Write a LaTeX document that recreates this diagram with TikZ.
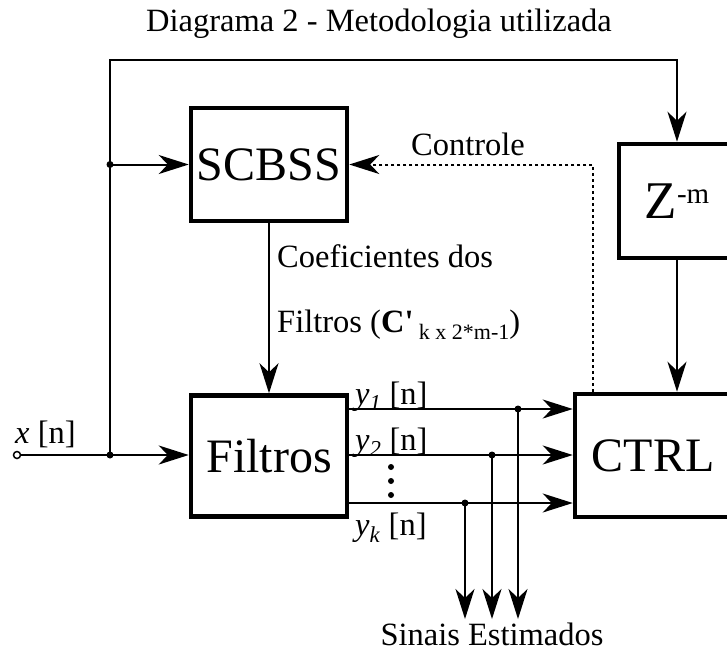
\documentclass[tikz,border=0pt]{standalone}
\usepackage{fontspec}
\setmainfont{Liberation Serif}
\usetikzlibrary{arrows.meta}
\newcommand\fbig{\fontsize{48}{54}\selectfont}
\newcommand\fzed{\fontsize{53}{58}\selectfont}
\newcommand\fmid{\fontsize{32.5}{38}\selectfont}
\newcommand\fsubs{\fontsize{22}{24}\selectfont}
\begin{document}
\begin{tikzpicture}[x=1pt,y=-1pt,
  blk/.style={draw,line width=4.5pt,inner sep=0pt,font=\fbig},
  ln/.style={line width=2pt},
  tip/.style={-{Stealth[length=30pt,width=19pt,inset=9pt]}},
  arr/.style={ln,tip},
  dotline/.style={line width=2pt,dash pattern=on 3pt off 3pt},
  lbl/.style={inner sep=0pt,font=\fmid},
  jdot/.style={fill=black}]
\useasboundingbox (0,0) rectangle (727,657);
\clip (0,0) rectangle (727,657);

% blocks
\node[blk,minimum width=156pt,minimum height=113pt] (scb) at (269,164.5) {SCBSS};
\node[blk,minimum width=156pt,minimum height=121pt] (fil) at (269,456) {Filtros};
\node[blk,minimum width=116pt,minimum height=114pt,font=\fzed] (zm) at (677,201) {Z\raisebox{15pt}{\fontsize{29}{32}\selectfont -m}};
\node[blk,minimum width=156pt,minimum height=123pt] (ctrl) at (653,455.5) {CTRL};

% input
\node[circle,draw,line width=1.5pt,inner sep=0pt,minimum size=7pt,fill=white] (in) at (17,455) {};
\coordinate (ja) at (110,455);
\coordinate (jb) at (110,164.5);
\coordinate (tl) at (110,60);
\draw[arr] (in) -- (in -| fil.west);
\draw[arr] (ja) -- (tl) -| (zm.north);
\draw[arr] (jb) -- (jb -| scb.west);
\fill[jdot] (ja) circle (3.5pt);
\fill[jdot] (jb) circle (3.5pt);

% SCBSS -> Filtros
\draw[arr] (scb.south) -- (fil.north);
% Z -> CTRL
\draw[arr] (zm.south) -- (zm.south |- ctrl.north);
% control dotted
\coordinate (cdx) at (593,164.5);
\draw[dotline,tip] (ctrl.north -| cdx) -- (cdx) -- (cdx -| scb.east);

% outputs
\coordinate (t1) at (518,409);
\coordinate (t2) at (492,455);
\coordinate (t3) at (465,503);
\coordinate (b1) at (518,619);
\coordinate (b2) at (492,619);
\coordinate (b3) at (465,619);
\draw[arr] (t1 -| fil.east) -- (t1 -| ctrl.west);
\draw[arr] (t2 -| fil.east) -- (t2 -| ctrl.west);
\draw[arr] (t3 -| fil.east) -- (t3 -| ctrl.west);
\draw[arr] (t1) -- (b1);
\draw[arr] (t2) -- (b2);
\draw[arr] (t3) -- (b3);
\fill[jdot] (t1) circle (3.5pt);
\fill[jdot] (t2) circle (3.5pt);
\fill[jdot] (t3) circle (3.5pt);
\fill (391,467) circle (3pt);
\fill (391,481) circle (3pt);
\fill (391,495) circle (3pt);

% labels
\node[lbl,anchor=base] (title) at (379,31) {Diagrama 2 - Metodologia utilizada};
\node[lbl,anchor=base] (ctl) at (468,155) {Controle};
\node[lbl,anchor=base west] (coef) at (277,267) {Coeficientes dos};
\node[lbl,anchor=base west] (filt) at (277,332) {Filtros (\textbf{C\textquotesingle}\,{\fsubs\raisebox{-7pt}{k x 2*m-1}})};
\node[lbl,anchor=base west] (xl) at (15,443) {\textit{x} [n]};
\node[lbl,anchor=base west] (y1l) at (355,404) {\textit{y}\textsubscript{\textit{1}} [n]};
\node[lbl,anchor=base west] (y2l) at (355,450) {\textit{y}\textsubscript{\textit{2}} [n]};
\node[lbl,anchor=base west] (ykl) at (355,535) {\textit{y}\textsubscript{\textit{k}} [n]};
\node[lbl,anchor=base] (sin) at (492,645) {Sinais Estimados};
\end{tikzpicture}
\end{document}
